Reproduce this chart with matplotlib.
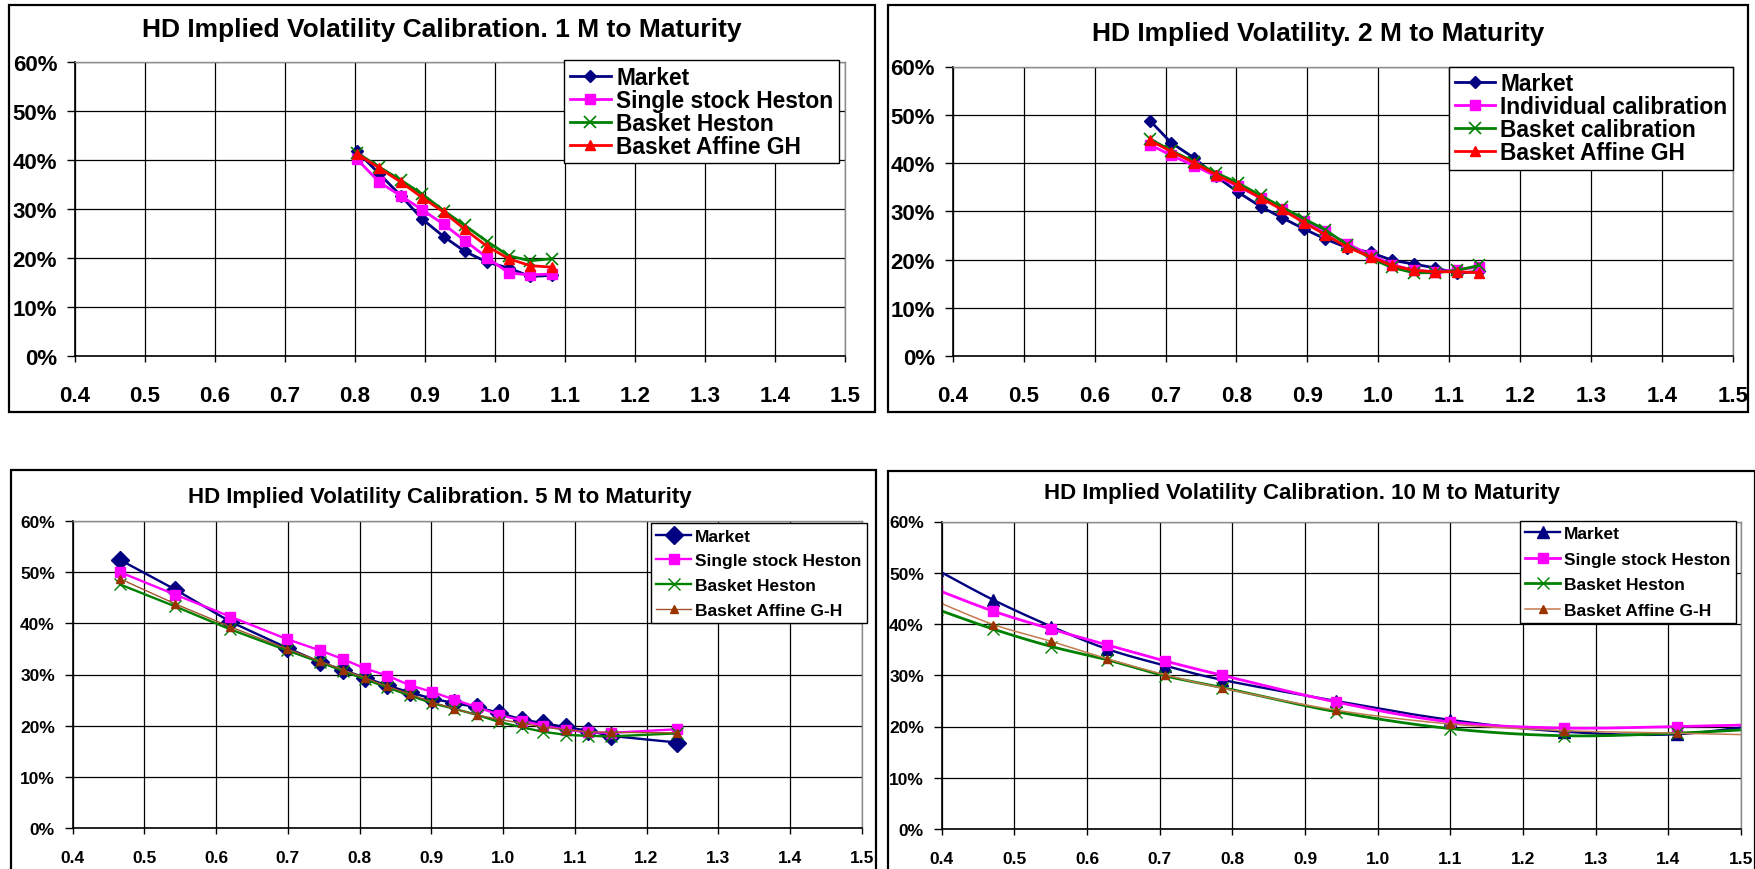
import numpy as np
import matplotlib
matplotlib.use("Agg")
import matplotlib.pyplot as plt
from matplotlib.lines import Line2D
from matplotlib.patches import Rectangle
from matplotlib.ticker import FuncFormatter, MultipleLocator

plt.rcParams['font.family'] = ['Liberation Sans', 'DejaVu Sans']
plt.rcParams['font.weight'] = 'bold'

# ---------------- data (implied volatility, %) ----------------
titles = [
    "HD Implied Volatility Calibration. 1 M to Maturity",
    "HD Implied Volatility. 2 M to Maturity",
    "HD Implied Volatility Calibration. 5 M to Maturity",
    "HD Implied Volatility Calibration. 10 M to Maturity",
]

# 1 month
m1_moneyness = [0.803, 0.835, 0.866, 0.896, 0.927, 0.957, 0.989, 1.020, 1.050, 1.081]
m1_market = [41.8, 37.2, 32.7, 28.0, 24.4, 21.4, 19.2, 18.0, 16.3, 16.5]
m1_single = [40.2, 35.5, 32.7, 29.9, 26.9, 23.6, 20.1, 17.0, 16.6, 16.8]
m1_basket_heston = [41.5, 38.6, 35.9, 33.1, 29.7, 26.7, 23.4, 20.5, 19.5, 19.9]
m1_basket_affine = [41.3, 38.4, 35.5, 32.4, 29.4, 25.9, 22.4, 19.9, 18.5, 18.2]
m1_labels = ["Market", "Single stock Heston", "Basket Heston", "Basket Affine GH"]

# 2 months
m2_moneyness = [0.678, 0.708, 0.740, 0.771, 0.802, 0.834, 0.864, 0.895,
                0.925, 0.956, 0.989, 1.019, 1.050, 1.080, 1.111, 1.142]
m2_market = [48.8, 44.2, 41.1, 37.3, 34.0, 31.0, 28.7, 26.4,
             24.3, 22.5, 21.5, 19.9, 19.1, 18.3, 17.2, 17.6]
m2_individual = [43.8, 41.6, 39.5, 37.3, 35.2, 32.8, 30.6, 28.0,
                 25.9, 23.3, 21.0, 19.0, 17.8, 17.5, 17.9, 18.5]
m2_basket = [45.0, 42.6, 40.3, 38.0, 35.9, 33.3, 30.9, 28.5,
             26.2, 23.1, 20.3, 18.4, 17.3, 17.3, 17.8, 18.8]
m2_basket_affine = [44.7, 42.4, 40.1, 37.6, 35.4, 32.8, 30.4, 27.7,
                    25.2, 22.6, 20.6, 18.8, 17.8, 17.5, 17.5, 17.3]
m2_labels = ["Market", "Individual calibration", "Basket calibration", "Basket Affine GH"]

# 5 months
m5_moneyness = [0.466, 0.543, 0.620, 0.699, 0.745, 0.777, 0.807, 0.838, 0.870, 0.901,
                0.932, 0.964, 0.995, 1.026, 1.056, 1.088, 1.119, 1.150, 1.243]
m5_market = [52.4, 46.6, 40.3, 35.2, 32.4, 30.9, 29.4, 27.9, 26.5, 25.3,
             24.4, 23.6, 22.5, 21.2, 20.5, 19.7, 19.0, 18.0, 16.7]
m5_single = [50.0, 45.6, 41.3, 36.9, 34.7, 33.0, 31.2, 29.8, 27.9, 26.6,
             25.1, 23.6, 22.1, 21.0, 20.0, 19.2, 18.7, 18.6, 19.3]
m5_basket_heston = [47.6, 43.3, 38.8, 34.7, 32.4, 30.7, 29.1, 27.5, 25.9, 24.4,
                    23.3, 22.1, 20.7, 19.7, 18.8, 18.2, 18.0, 17.9, 18.5]
m5_basket_affine = [48.7, 43.8, 39.3, 35.0, 32.6, 30.9, 29.4, 27.7, 26.2, 24.6,
                    23.3, 22.1, 21.2, 20.5, 19.7, 19.2, 18.8, 18.7, 18.6]
m5_labels = ["Market", "Single stock Heston", "Basket Heston", "Basket Affine G-H"]

# 10 months
m10_moneyness = [0.393, 0.471, 0.551, 0.628, 0.707, 0.786, 0.942, 1.099, 1.256, 1.412, 1.569]
m10_market = [50.6, 44.7, 39.5, 35.1, 31.9, 29.1, 25.0, 21.3, 19.0, 18.5, 21.2]
m10_single = [46.7, 42.5, 39.0, 35.9, 32.8, 30.0, 24.8, 20.9, 19.7, 20.0, 20.5]
m10_basket_heston = [42.9, 39.0, 35.6, 33.0, 29.9, 27.6, 22.9, 19.6, 18.2, 18.7, 19.9]
m10_basket_affine = [44.4, 39.9, 36.6, 33.2, 30.1, 27.5, 23.2, 20.5, 19.2, 18.7, 18.2]
m10_labels = ["Market", "Single stock Heston", "Basket Heston", "Basket Affine G-H"]

# ---------------- drawing helpers ----------------
W, H = 1756, 870
fig = plt.figure(figsize=(W / 100, H / 100), dpi=100)
fig.patch.set_facecolor("white")


def px_axes(x0, x1, y0, y1):
    return fig.add_axes([x0 / W, 1 - y1 / H, (x1 - x0) / W, (y1 - y0) / H])


def panel_border(x0, x1, y0, y1):
    fig.add_artist(Rectangle((x0 / W, 1 - y1 / H), (x1 - x0) / W, (y1 - y0) / H,
                             transform=fig.transFigure, fill=False,
                             ec="black", lw=1.6, zorder=0))


def catmull_rom(x, y, n=24):
    """Excel-style smoothed line through the points (cubic Bezier segments)."""
    pts = np.column_stack([x, y]).astype(float)
    padded = np.vstack([pts[0], pts, pts[-1]])
    t = np.linspace(0, 1, n)[:, None]
    out = []
    for i in range(len(pts) - 1):
        p0, p1, p2, p3 = padded[i], padded[i + 1], padded[i + 2], padded[i + 3]
        c1 = p1 + (p2 - p0) / 6.0
        c2 = p2 - (p3 - p1) / 6.0
        seg = ((1 - t) ** 3) * p1 + 3 * ((1 - t) ** 2) * t * c1 + 3 * (1 - t) * t ** 2 * c2 + t ** 3 * p2
        out.append(seg if i == 0 else seg[1:])
    seg = np.vstack(out)
    return seg[:, 0], seg[:, 1]


def draw_series(ax, x, y, color, marker, ms, lw, mcolor=None, mew=1.0, smooth=False):
    mcolor = mcolor or color
    if smooth:
        sx, sy = catmull_rom(x, y)
    else:
        sx, sy = x, y
    ax.plot(sx, sy, color=color, lw=lw, solid_joinstyle="round")
    ax.plot(x, y, ls="none", marker=marker, ms=ms, mfc=mcolor, mec=mcolor, mew=mew)
    return Line2D([], [], color=color, lw=lw, marker=marker, ms=ms,
                  mfc=mcolor, mec=mcolor, mew=mew)


def style_axes(ax, tick_fs, xpad, ypad, ylen=5.8, xlen=4.3):
    ax.set_xlim(0.4, 1.5)
    ax.set_ylim(0, 60)
    ax.xaxis.set_major_locator(MultipleLocator(0.1))
    ax.yaxis.set_major_locator(MultipleLocator(10))
    ax.xaxis.set_major_formatter(FuncFormatter(lambda v, p: f"{v:.1f}"))
    ax.yaxis.set_major_formatter(FuncFormatter(lambda v, p: f"{v:.0f}%"))
    ax.grid(True, color="black", lw=0.9)
    ax.set_axisbelow(True)
    for s in ("left", "bottom"):
        ax.spines[s].set_color("black")
        ax.spines[s].set_linewidth(1.2)
    for s in ("top", "right"):
        ax.spines[s].set_color("#8c8c8c")
        ax.spines[s].set_linewidth(1.0)
    ax.tick_params(axis="x", direction="out", length=xlen, width=1, pad=xpad,
                   labelsize=tick_fs, top=False)
    ax.tick_params(axis="y", direction="out", length=ylen, width=1, pad=ypad,
                   labelsize=tick_fs, right=False)
    for lab in ax.get_xticklabels() + ax.get_yticklabels():
        lab.set_fontweight("bold")


def add_legend(ax, handles, labels, anchor, fs, spacing, handlelength, borderpad=0.25):
    leg = ax.legend(handles, labels, loc="upper left",
                    bbox_to_anchor=(anchor[0] / W, 1 - anchor[1] / H),
                    bbox_transform=fig.transFigure,
                    frameon=True, fancybox=False, framealpha=1, borderaxespad=0,
                    borderpad=borderpad, labelspacing=spacing, handlelength=handlelength,
                    handletextpad=0.25, numpoints=1,
                    prop={"weight": "bold", "size": fs})
    leg.get_frame().set_edgecolor("black")
    leg.get_frame().set_linewidth(1.0)
    leg.set_zorder(10)
    return leg


NAVY, MAGENTA, GREEN, RED, BROWN = "#000080", "#FF00FF", "#008000", "#FF0000", "#993300"

# ---------------- panel 1 ----------------
panel_border(8.5, 875, 5.5, 412.7)
ax1 = px_axes(75, 845, 63.3, 357.3)
style_axes(ax1, 16, xpad=16.5, ypad=7)
h1 = [
    draw_series(ax1, m1_moneyness, m1_market, NAVY, "D", 6.5, 2.0),
    draw_series(ax1, m1_moneyness, m1_single, MAGENTA, "s", 6.5, 2.0),
    draw_series(ax1, m1_moneyness, m1_basket_heston, GREEN, "x", 8.5, 2.0, mew=1.2),
    draw_series(ax1, m1_moneyness, m1_basket_affine, RED, "^", 6.5, 2.0),
]
add_legend(ax1, h1, m1_labels, (564, 61), 16.4, 0.0, 1.8)
fig.text(442 / W, 1 - 30.5 / H, titles[0], ha="center", va="center",
         fontsize=19, fontweight="bold")

# ---------------- panel 2 ----------------
panel_border(887.7, 1748, 6, 413)
ax2 = px_axes(952.7, 1733, 67.5, 357.3)
style_axes(ax2, 16, xpad=16.5, ypad=7)
h2 = [
    draw_series(ax2, m2_moneyness, m2_market, NAVY, "D", 6.5, 2.0),
    draw_series(ax2, m2_moneyness, m2_individual, MAGENTA, "s", 6.5, 2.0),
    draw_series(ax2, m2_moneyness, m2_basket, GREEN, "x", 8.5, 2.0, mew=1.2),
    draw_series(ax2, m2_moneyness, m2_basket_affine, RED, "^", 6.5, 2.0),
]
add_legend(ax2, h2, m2_labels, (1449, 67.7), 16.4, 0.0, 1.75)
fig.text(1318 / W, 1 - 34 / H, titles[1], ha="center", va="center",
         fontsize=19, fontweight="bold")

# ---------------- panel 3 ----------------
panel_border(10.7, 876, 470.7, 900)
ax3 = px_axes(72.7, 861.7, 522, 829)
style_axes(ax3, 12.5, xpad=11.5, ypad=7)
h3 = [
    draw_series(ax3, m5_moneyness, m5_market, NAVY, "D", 9, 1.7),
    draw_series(ax3, m5_moneyness, m5_single, MAGENTA, "s", 6.5, 1.7),
    draw_series(ax3, m5_moneyness, m5_basket_heston, GREEN, "x", 8, 1.7, mew=1.0),
    draw_series(ax3, m5_moneyness, m5_basket_affine, "#a0522d", "^", 6, 1.0, mcolor=BROWN),
]
add_legend(ax3, h3, m5_labels, (651, 524.3), 12.5, 0.55, 2.0, borderpad=0.3)
fig.text(440 / W, 1 - 497.5 / H, titles[2], ha="center", va="center",
         fontsize=16, fontweight="bold")

# ---------------- panel 4 ----------------
panel_border(887.7, 1754.5, 471.7, 900)
ax4 = px_axes(941.7, 1741, 522.5, 830)
style_axes(ax4, 12.5, xpad=11.5, ypad=7)
h4 = [
    draw_series(ax4, m10_moneyness, m10_market, NAVY, "^", 8, 1.7, smooth=True),
    draw_series(ax4, m10_moneyness, m10_single, MAGENTA, "s", 6.5, 2.0, smooth=True),
    draw_series(ax4, m10_moneyness, m10_basket_heston, GREEN, "x", 8, 2.0, mew=1.0, smooth=True),
    draw_series(ax4, m10_moneyness, m10_basket_affine, "#c47a4f", "^", 6, 1.1,
                mcolor=BROWN, smooth=True),
]
add_legend(ax4, h4, m10_labels, (1520, 521.7), 12.5, 0.6, 2.0, borderpad=0.3)
fig.text(1302.5 / W, 1 - 493.5 / H, titles[3], ha="center", va="center",
         fontsize=16, fontweight="bold")

fig.savefig("out.png", dpi=100, facecolor="white")
